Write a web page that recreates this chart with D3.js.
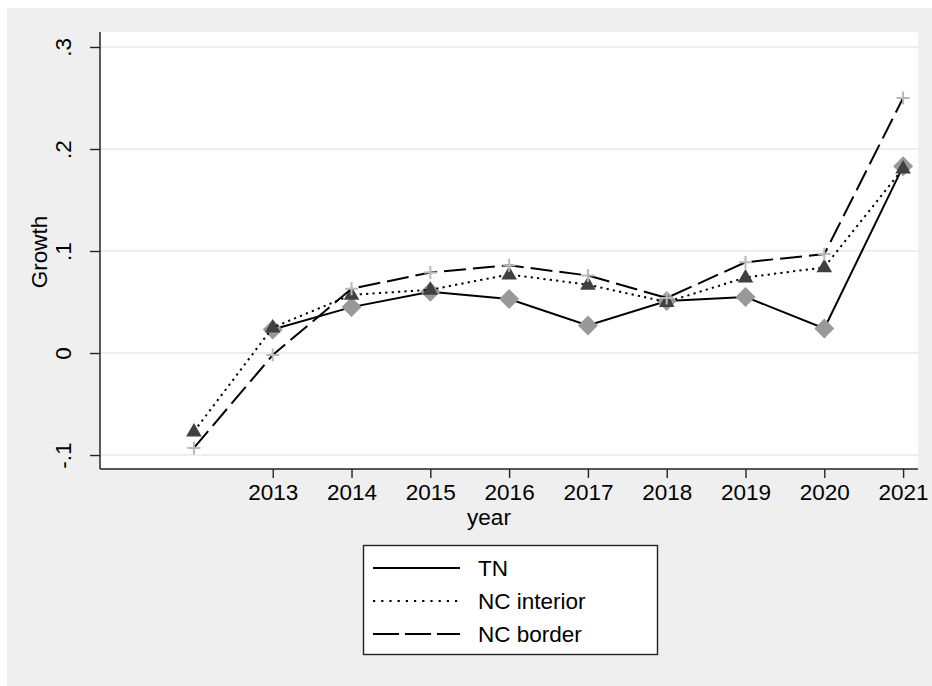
<!DOCTYPE html>
<html lang="en">
<head>
    <meta charset="UTF-8">
    <script src="https://d3js.org/d3.v7.min.js"></script>
    <title>Growth by year</title>
    <style>
        body { margin: 0; background: #fff; }
        text { font-family: "Liberation Sans", Arial, sans-serif; fill: #000; }
    </style>
</head>
<body>
<div id="chart"></div>

<script>
    // data
    const years = [2012, 2013, 2014, 2015, 2016, 2017, 2018, 2019, 2020, 2021];
    const tnValues = [null, 0.023, 0.045, 0.060, 0.053, 0.027, 0.051, 0.055, 0.024, 0.183];
    const ncInteriorValues = [-0.077, 0.025, 0.057, 0.062, 0.077, 0.067, 0.050, 0.074, 0.084, 0.181];
    const ncBorderValues = [-0.093, -0.002, 0.063, 0.079, 0.086, 0.076, 0.054, 0.089, 0.097, 0.250];
    const xTickYears = [2013, 2014, 2015, 2016, 2017, 2018, 2019, 2020, 2021];
    const yTicks = [-0.1, 0, 0.1, 0.2, 0.3];
    const yTickLabels = ["-.1", "0", ".1", ".2", ".3"];
    const seriesNames = ["TN", "NC interior", "NC border"];

    const W = 932, H = 686;
    const plot = {left: 100, right: 918, top: 32, bottom: 469};

    const svg = d3.select("#chart").append("svg")
        .attr("width", W)
        .attr("height", H);

    // grey outer region
    svg.append("rect")
        .attr("x", 7).attr("y", 8)
        .attr("width", W - 7).attr("height", H - 8)
        .attr("fill", "#efefef");

    // white plot region
    svg.append("rect")
        .attr("x", plot.left).attr("y", plot.top)
        .attr("width", plot.right - plot.left).attr("height", plot.bottom - plot.top)
        .attr("fill", "#fff");

    const x = d3.scaleLinear().domain([2010.808, 2021.189]).range([plot.left, plot.right]);
    const y = d3.scaleLinear().domain([-0.1137, 0.3147]).range([plot.bottom, plot.top]);

    // grid lines
    svg.append("g").selectAll("line")
        .data(yTicks)
        .join("line")
        .attr("x1", plot.left).attr("x2", plot.right)
        .attr("y1", d => y(d)).attr("y2", d => y(d))
        .attr("stroke", "#e8e8e8")
        .attr("stroke-width", 1.5);

    // y axis
    const yAxis = svg.append("g")
        .attr("transform", "translate(" + plot.left + ",0)")
        .call(d3.axisLeft(y).tickValues(yTicks).tickSize(10).tickPadding(0)
            .tickFormat((d, i) => yTickLabels[i]));
    yAxis.select(".domain").attr("stroke", "#333").attr("stroke-width", 1.6)
        .attr("d", "M0," + plot.top + "V" + plot.bottom);
    yAxis.selectAll(".tick line").attr("stroke", "#222").attr("stroke-width", 1.4);
    yAxis.selectAll(".tick text")
        .attr("font-size", 22.5)
        .attr("text-anchor", "middle")
        .attr("x", null).attr("dy", null)
        .attr("transform", "translate(-29,0) rotate(-90)");

    // x axis
    const xAxis = svg.append("g")
        .attr("transform", "translate(0," + plot.bottom + ")")
        .call(d3.axisBottom(x).tickValues(xTickYears).tickSize(9).tickPadding(0)
            .tickFormat(d3.format("d")));
    xAxis.select(".domain").attr("stroke", "#222").attr("stroke-width", 1.6)
        .attr("d", "M" + plot.left + ",0H" + plot.right);
    xAxis.selectAll(".tick line").attr("stroke", "#222").attr("stroke-width", 1.4);
    xAxis.selectAll(".tick text")
        .attr("font-size", 22.5)
        .attr("dy", null)
        .attr("y", 31);

    // axis titles
    svg.append("text")
        .attr("x", 489).attr("y", 525)
        .attr("text-anchor", "middle")
        .attr("font-size", 22.5)
        .text("year");
    svg.append("text")
        .attr("transform", "translate(47,252) rotate(-90)")
        .attr("text-anchor", "middle")
        .attr("font-size", 22.5)
        .text("Growth");

    // series
    const series = [
        {name: seriesNames[0], values: tnValues, dash: null, marker: "diamond"},
        {name: seriesNames[1], values: ncInteriorValues, dash: "2.2,4.2", marker: "triangle"},
        {name: seriesNames[2], values: ncBorderValues, dash: "22,7", marker: "plus"}
    ];

    const line = d3.line()
        .defined(d => d.v !== null)
        .x(d => x(d.year))
        .y(d => y(d.v));

    series.forEach(function (s) {
        const pts = years.map((yr, i) => ({year: yr, v: s.values[i]}));
        svg.append("path")
            .datum(pts)
            .attr("fill", "none")
            .attr("stroke", "#000")
            .attr("stroke-width", 2)
            .attr("stroke-dasharray", s.dash)
            .attr("d", line);

        const g = svg.append("g").selectAll("g")
            .data(pts.filter(d => d.v !== null))
            .join("g")
            .attr("transform", d => "translate(" + x(d.year) + "," + y(d.v) + ")");

        if (s.marker === "diamond") {
            g.append("path").attr("d", "M0,-10L10,0L0,10L-10,0Z").attr("fill", "#999");
        } else if (s.marker === "triangle") {
            g.append("path").attr("d", "M0,-8.5L7.8,5L-7.8,5Z").attr("fill", "#404040");
        } else {
            g.append("path").attr("d", "M-6.5,0H6.5M0,-6.5V6.5")
                .attr("stroke", "#b8b8b8").attr("stroke-width", 2);
        }
    });

    // legend
    const legend = svg.append("g");
    legend.append("rect")
        .attr("x", 363.5).attr("y", 545.5)
        .attr("width", 294).attr("height", 109)
        .attr("fill", "#fff")
        .attr("stroke", "#222")
        .attr("stroke-width", 1.4);
    const legendY = d3.scalePoint().domain(seriesNames).range([568, 634]);
    series.forEach(function (s) {
        legend.append("line")
            .attr("x1", 373).attr("x2", 460)
            .attr("y1", legendY(s.name)).attr("y2", legendY(s.name))
            .attr("stroke", "#000")
            .attr("stroke-width", 2)
            .attr("stroke-dasharray", s.dash === null ? null : (s.marker === "plus" ? "26,6" : "2.2,6"));
        legend.append("text")
            .attr("x", 478).attr("y", legendY(s.name) + 7.5)
            .attr("font-size", 22.5)
            .text(s.name);
    });
</script>

</body>
</html>
